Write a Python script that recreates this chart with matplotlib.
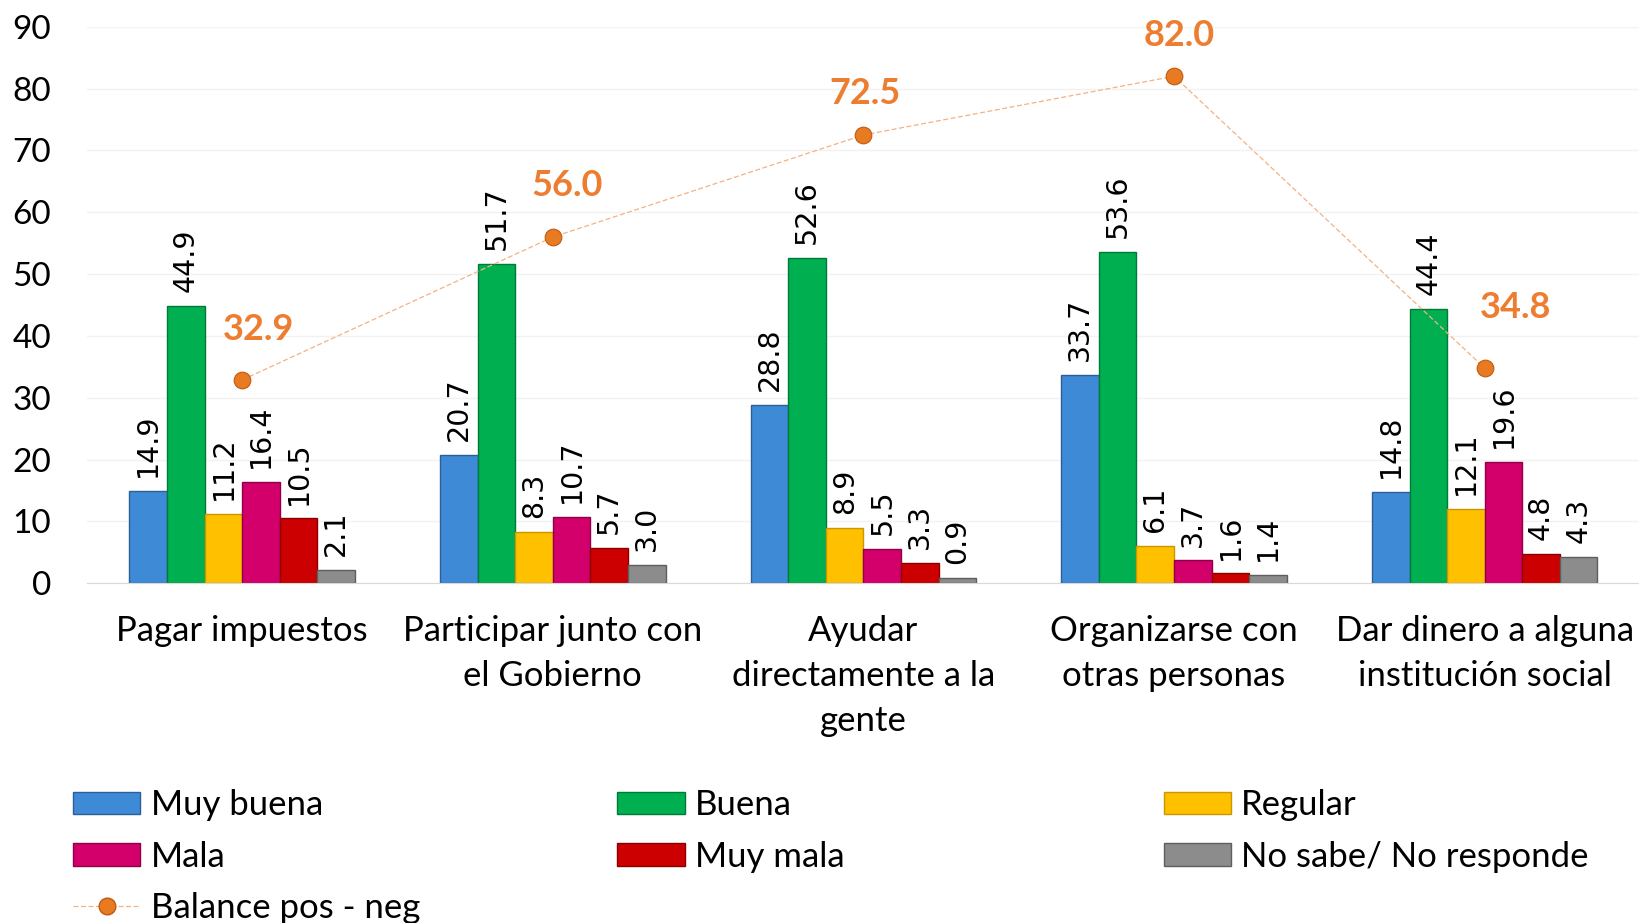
import numpy as np
import matplotlib
matplotlib.use("Agg")
import matplotlib.pyplot as plt
from matplotlib.patches import Patch
from matplotlib.lines import Line2D

plt.rcParams['font.family'] = ['Lato', 'DejaVu Sans']

categories = ["Pagar impuestos",
              "Participar junto con\nel Gobierno",
              "Ayudar\ndirectamente a la\ngente",
              "Organizarse con\notras personas",
              "Dar dinero a alguna\ninstitución social"]
series_names = ["Muy buena", "Buena", "Regular", "Mala", "Muy mala", "No sabe/ No responde"]
muy_buena = [14.9, 20.7, 28.8, 33.7, 14.8]
buena = [44.9, 51.7, 52.6, 53.6, 44.4]
regular = [11.2, 8.3, 8.9, 6.1, 12.1]
mala = [16.4, 10.7, 5.5, 3.7, 19.6]
muy_mala = [10.5, 5.7, 3.3, 1.6, 4.8]
no_sabe = [2.1, 3.0, 0.9, 1.4, 4.3]
balance = [32.9, 56.0, 72.5, 82.0, 34.8]

colors = ["#3F8AD6", "#00B050", "#FFC000", "#D3006B", "#CC0000", "#8C8C8C"]
edges = ["#2A5F98", "#007A38", "#C99700", "#8E0048", "#8A0000", "#5E5E5E"]
orange = "#ED7D31"
# label offsets (points) for the balance labels
bal_offsets = [(12, 36), (10, 37), (1, 30), (4, 29), (22, 44)]

fig = plt.figure(figsize=(16.4, 9.23), dpi=100)
ax = fig.add_axes([0.053, 0.368, 0.947, 0.603])

x = np.arange(len(categories))
w = 0.121
all_series = [muy_buena, buena, regular, mala, muy_mala, no_sabe]
for i, vals in enumerate(all_series):
    pos = x + (i - 2.5) * w
    bars = ax.bar(pos, vals, width=w, color=colors[i], edgecolor=edges[i], linewidth=1.0, zorder=2)
    for b, v in zip(bars, vals):
        ax.annotate(f"{v:.1f}", (b.get_x() + b.get_width() / 2, v), xytext=(0, 10),
                    textcoords="offset points", rotation=90, ha="center", va="bottom",
                    fontsize=20.5, family="DejaVu Sans", color="black")

ax.plot(x, balance, linestyle=(0, (4, 2)), linewidth=0.9, color="#F4B183",
        marker="o", markersize=12, markerfacecolor="#E87A22", markeredgecolor="#C05A10",
        markeredgewidth=0.8, zorder=3)
for xi, v, off in zip(x, balance, bal_offsets):
    ax.annotate(f"{v:.1f}", (xi, v), xytext=off, textcoords="offset points",
                ha="center", va="center", fontsize=26, fontweight="bold", color=orange)

ax.set_xlim(-0.5, 4.5)
ax.set_ylim(0, 90)
ax.set_yticks(range(0, 91, 10))
ax.set_xticks(x)
ax.set_xticklabels(categories, fontsize=25, linespacing=1.5)
ax.tick_params(axis="y", length=0, pad=26, labelsize=24)
ax.tick_params(axis="x", length=0, pad=23)
for lab in ax.get_yticklabels():
    lab.set_horizontalalignment("right")
ax.grid(axis="y", color="#F2F2F2", linewidth=1, zorder=0)
ax.set_axisbelow(True)
for s in ["top", "right", "left"]:
    ax.spines[s].set_visible(False)
ax.spines["bottom"].set_color("#D9D9D9")

# legend in three columns with fixed widths
handles = [Patch(facecolor=colors[i], edgecolor=edges[i], label=series_names[i]) for i in range(6)]
bal_handle = Line2D([], [], linestyle=(0, (4, 2)), linewidth=0.9, color="#F4B183", marker="o",
                    markersize=12, markerfacecolor="#E87A22", markeredgecolor="#C05A10",
                    label="Balance pos - neg")
cols = [[handles[0], handles[3], bal_handle], [handles[1], handles[4]], [handles[2], handles[5]]]
col_x = [0.0445, 0.3765, 0.7095]
for hs, cx in zip(cols, col_x):
    fig.legend(handles=hs, loc="upper left", bbox_to_anchor=(cx, 0.145), frameon=False,
               fontsize=25, handlelength=1.94, handleheight=0.62, handletextpad=0.3,
               labelspacing=0.56, borderpad=0, borderaxespad=0)

fig.savefig("out.png", dpi=100)
